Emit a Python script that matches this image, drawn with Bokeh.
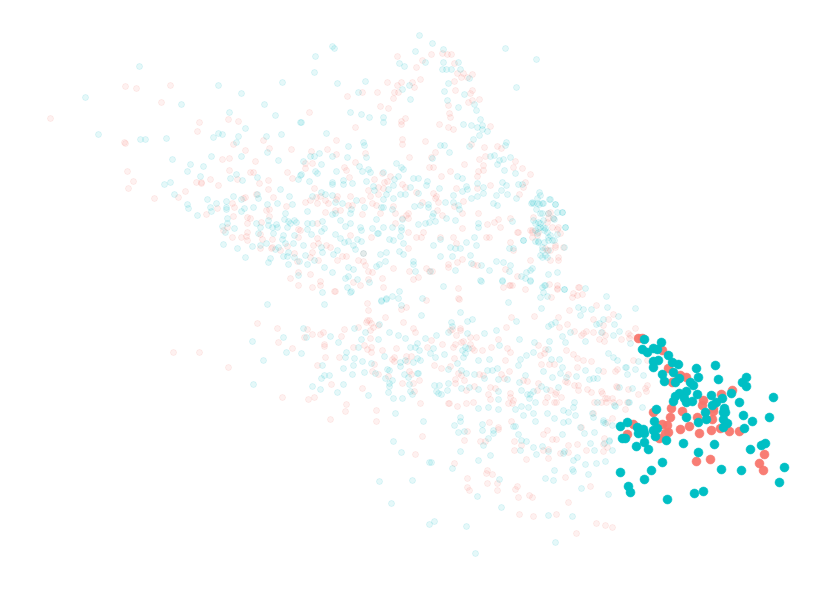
from bokeh.plotting import figure
from bokeh.models import Range1d
from bokeh.embed import file_html
from bokeh.resources import INLINE

faint_cyan = [
(139,66),(85,97),(98,134),(140,139),(145,139),(166,138),(172,159),(181,104),(218,85),(241,93),(282,82),(264,104),(229,112),(275,115),(300,122),(245,128),(213,137),(218,133),(222,134),(238,136),(236,142),(266,136),(281,134),(267,152),(241,156),(211,156),(278,160),(190,164),(203,166),(187,171),(200,176),(230,178),(236,174),(242,180),(257,177),(300,175),(298,179),(164,184),(170,182),(174,194),(187,204),(188,208),(197,215),(207,199),(210,207),(211,211),(216,203),(226,201),(226,207),(226,209),(233,196),(241,199),(241,211),(244,208),(253,207),(257,194),(258,198),(267,204),(277,203),(280,189),(289,196),(292,204),(285,213),(227,218),(227,223),(222,226),(225,232),(234,228),(256,223),(260,227),(258,233),(268,220),(268,225),(272,227),(276,224),(277,227),(273,233),(284,219),(288,221),(290,223),(294,220),(296,222),(287,227),(283,235),(282,239),(294,235),(285,243),(293,243),(223,244),(237,248),(252,246),(260,245),(266,243),(275,249),(278,247),(288,252),(287,256),(283,256),(294,257),(245,257),(270,258),(268,262),(288,264),(299,261),(298,275),
(419,35),(432,43),(443,49),(332,46),(334,48),(315,56),(314,72),(415,51),(505,48),(536,59),(443,62),(458,62),(425,62),(399,63),(404,66),(442,69),(446,69),(451,69),(460,69),(469,78),(365,81),(337,83),(448,83),(516,87),(409,85),(402,89),(358,92),(444,91),(464,94),(410,99),(447,100),(458,107),(474,104),(476,110),(350,112),(361,114),(369,117),(383,117),(383,122),(301,122),(480,119),(463,124),(471,125),(477,127),(482,125),(482,129),(487,131),(479,135),(473,139),(326,133),(363,142),(364,145),(348,146),(319,153),(440,145),(444,145),(449,152),(469,146),(506,142),(505,145),(494,155),(490,156),(499,160),(503,159),(510,157),(497,164),(432,158),(310,156),(314,156),(332,156),(347,157),(366,157),(303,161),(321,164),(359,166),(368,169),(396,163),(401,167),(403,169),(315,171),(317,173),(336,171),(362,171),(370,172),(383,172),(504,170),(515,173),(301,174),(413,178),(418,178),(398,176),(394,179),(457,176),(462,178),(309,181),(343,180),(343,184),(332,182),(332,184),(352,183),(366,181),(427,181),(426,185),(477,183),(502,182),(506,185),(518,184),(522,184),(483,187),(373,186),(374,190),(393,185),(388,189),(386,194),(410,187),(418,193),(439,188),(466,186),(467,189),(462,191),(501,190),(496,195),(507,194),(483,193),(477,196),(471,198),(453,195),(312,196),(321,192),(325,194),(332,195),(400,194),(405,194),(383,199),(393,198),(539,192),(540,195),(537,198),(516,198),(493,203),(497,205),(531,203),(533,203),(539,204),(543,203),(549,199),(555,204),(445,202),(453,202),(458,205),(459,209),(335,202),(342,203),(356,200),(364,207),(381,207),(383,207),(392,209),(414,206),(420,205),(428,204),(428,207),(307,211),(351,209),(350,213),(332,214),(335,213),(536,209),(542,213),(557,212),(562,212),(553,218),(433,213),(432,216),(446,218),(455,220),(376,219),(402,219),(512,221),(307,223),(312,223),(322,221),(340,220),(350,223),(418,224),(425,223),(429,222),(435,221),(478,223),(478,227),(533,220),(538,222),(543,220),(540,227),(544,230),(537,233),(548,237),(552,240),(565,227),(557,234),(324,228),(321,231),(307,229),(311,234),(360,227),(372,228),(383,227),(392,227),(401,227),(401,230),(400,236),(389,239),(378,233),(361,230),(345,226),(335,234),(340,238),(344,242),(348,241),(357,239),(361,241),(303,245),(321,247),(322,252),(353,245),(355,249),(377,233),(393,240),(403,243),(433,245),(440,239),(450,247),(455,248),(460,248),(466,242),(474,237),(476,245),(509,248),(523,240),(513,248),(535,241),(538,241),(542,250),(564,247),(540,255),(545,255),(440,256),(452,256),(470,255),(337,250),(333,254),(305,255),(363,253),(386,252),(380,254),(399,251),(403,254),(385,261),(307,264),(314,260),(324,267),(332,272),(348,267),(353,269),(345,278),(348,276),(357,279),(379,264),(376,266),(413,261),(413,264),(415,271),(430,271),(455,270),(471,263),(481,265),(489,270),(496,261),(503,262),(510,265),(509,271),(521,276),(526,272),(530,270),(532,268),(525,278),(530,280),(502,280),(480,280),(548,274),(557,272),(545,285),(542,287),(564,289),(540,297),(443,286),(369,282),(347,287),(351,291),(322,292),(399,291),(392,296),(386,298),(398,298),(381,300),(422,298),
(267,304),(324,304),(350,292),(381,301),(386,299),(401,305),(421,315),(303,328),(306,337),(283,337),(252,341),(330,336),(338,342),(354,328),(379,324),(365,332),(389,332),(398,335),(405,338),(378,339),(361,339),(358,347),(417,343),(425,338),(436,335),(448,332),(410,347),(415,347),(419,350),(433,348),(430,353),(435,357),(444,354),(286,352),(301,353),(263,360),(346,352),(345,357),(354,358),(362,361),(371,363),(384,356),(400,362),(400,366),(405,360),(420,360),(417,358),(413,362),(322,365),(343,368),(353,365),(364,372),(375,373),(387,369),(389,370),(404,374),(408,377),(417,373),(418,373),(448,369),(324,375),(329,375),(321,378),(352,374),(385,378),(392,380),(389,383),(389,386),(409,384),(253,384),(312,386),(343,384),(320,389),(337,392),(368,395),(388,392),(410,391),(412,394),(402,398),(393,398),(434,385),(439,385),(448,383),(447,390),(436,391),(438,393),(441,394),(395,413),(423,421),(393,441),(401,452),(429,462),(431,462),(379,481),(412,480),(391,503),(434,521),(429,524),(452,468),
(481,281),(502,281),(530,281),(544,285),(543,292),(547,296),(585,288),(564,289),(606,296),(508,302),(541,308),(578,307),(583,309),(591,309),(607,307),(580,315),(460,312),(451,322),(452,326),(467,321),(472,319),(516,321),(548,326),(551,324),(555,322),(596,324),(599,323),(603,319),(614,324),(618,316),(496,330),(484,333),(467,333),(570,332),(601,332),(613,335),(619,331),(562,336),(585,341),(549,341),(519,339),(534,342),(565,342),(630,343),(499,345),(462,350),(465,347),(468,348),(465,353),(463,357),(478,360),(489,359),(548,349),(533,352),(526,355),(520,359),(518,365),(551,359),(559,359),(608,353),(613,357),(625,367),(617,360),(457,363),(461,370),(466,373),(474,374),(487,370),(492,370),(497,368),(484,378),(498,379),(507,379),(525,375),(543,371),(552,377),(562,367),(560,373),(576,376),(585,370),(589,379),(598,370),(593,378),(597,378),(519,382),(461,388),(469,387),(478,389),(498,391),(498,399),(530,394),(527,394),(533,391),(521,390),(541,386),(546,389),(558,387),(566,377),(619,387),(529,398),(535,402),(574,402),(573,407),(597,402),(614,405),(628,402),(478,408),(488,407),(498,409),(521,406),(515,409),(528,407),(523,415),(533,413),(547,413),(563,410),(568,412),(575,415),(535,421),(554,418),(563,422),(568,421),(592,413),(593,417),(460,417),(460,421),(454,425),(458,432),(482,424),(482,430),(493,430),(493,433),(603,420),(605,423),(612,425),(513,426),(515,426),(518,434),(562,434),(580,427),(584,433),(594,432),(609,440),(464,431),(521,440),(526,441),(488,438),(483,445),(460,451),(490,455),(533,447),(542,446),(548,451),(536,454),(520,450),(564,451),(563,453),(577,457),(573,460),(590,443),(594,450),(612,450),(605,461),(596,463),(585,464),(478,460),(554,470),(572,469),(573,471),(588,474),(499,479),(545,478),(553,480),(581,488),(608,494),(477,496),(501,507),(548,515),(572,516),(466,526),(555,542),(475,553),
(635,308),(626,367),(627,374),(635,369),(643,375),(638,361),(632,388),(629,402),(615,406),(642,407),(609,441),(604,443),(603,422),
(532,202),(537,203),(542,203),(550,199),(555,204),(540,213),(548,213),(562,212),(554,219),(535,223),(540,223),(543,227),(538,228),(535,230),(547,232),(550,235),(554,240),(548,240),(544,242),(538,242),(548,250),(542,247),(523,240),(565,227),(542,257),(547,257),(545,228),
]

faint_red = [
(125,86),(136,88),(170,85),(161,102),(50,118),(199,122),(197,131),(228,119),(238,121),(124,142),(125,143),(233,144),(263,140),(245,150),(269,148),(291,149),(222,159),(229,158),(255,161),(127,171),(133,181),(128,188),(154,198),(178,197),(185,191),(196,182),(201,182),(201,183),(210,179),(218,185),(229,170),(237,179),(250,172),(253,172),(259,183),(268,180),(287,172),(292,178),(268,189),(245,197),(243,198),(256,194),(273,197),(232,203),(234,207),(217,208),(206,214),(266,210),(269,209),(286,206),(233,216),(247,217),(250,218),(269,216),(247,223),(261,222),(223,230),(227,227),(247,232),(246,236),(232,237),(241,237),(247,240),(260,234),(262,239),(298,229),(298,237),(272,239),(272,247),(260,248),(271,248),(280,250),(287,246),(294,253),(297,261),(298,272),(290,278),(298,285),
(397,56),(431,54),(442,53),(447,54),(451,54),(422,60),(416,67),(454,63),(457,73),(463,73),(472,74),(467,77),(461,77),(454,81),(387,82),(401,82),(397,85),(412,82),(420,79),(414,87),(398,92),(394,92),(377,92),(362,92),(347,96),(393,98),(455,90),(472,90),(470,93),(479,99),(468,102),(472,100),(448,105),(380,106),(388,108),(309,112),(405,118),(401,121),(401,124),(355,127),(449,113),(450,117),(439,124),(448,127),(453,129),(490,126),(336,140),(402,139),(402,144),(425,141),(471,144),(484,147),(497,146),(501,148),(327,149),(311,151),(365,153),(435,152),(479,159),(485,156),(312,163),(336,154),(355,162),(409,157),(431,157),(464,164),(483,165),(305,163),(305,168),(515,161),(513,167),(522,168),(530,174),(478,171),(483,170),(429,167),(433,167),(450,171),(344,167),(346,170),(382,173),(441,176),(477,176),(349,177),(374,179),(390,176),(387,181),(384,182),(402,184),(490,185),(525,182),(523,187),(314,188),(405,187),(378,187),(383,188),(378,194),(456,188),(477,188),(416,192),(433,193),(436,196),(519,194),(368,190),(337,196),(350,196),(320,196),(316,197),(370,196),(310,200),(305,202),(317,203),(325,200),(328,203),(336,199),(352,205),(348,205),(362,200),(372,203),(376,205),(393,206),(422,202),(435,198),(438,202),(463,201),(454,206),(437,210),(442,215),(462,213),(478,213),(498,219),(494,222),(487,224),(510,218),(500,227),(532,230),(532,237),(548,213),(552,227),(537,235),(555,245),(545,248),(558,257),(558,260),(340,210),(325,212),(335,210),(362,214),(380,213),(395,213),(408,213),(406,215),(402,218),(408,218),(317,223),(300,230),(371,237),(350,235),(408,232),(395,223),(423,232),(421,237),(416,237),(440,237),(453,237),(456,243),(462,228),(489,237),(486,237),(517,232),(510,242),(513,250),(563,247),(317,238),(318,243),(313,245),(326,245),(330,247),(408,248),(363,253),(342,256),(346,256),(312,252),(318,260),(310,257),(337,260),(358,260),(363,261),(365,265),(368,271),(372,272),(393,268),(409,271),(426,268),(429,271),(432,271),(462,259),(457,262),(448,264),(448,267),(473,264),(477,265),(505,269),(530,260),(517,276),(550,260),(382,278),(310,274),(320,281),(320,285),(312,287),(334,291),(353,282),(368,279),(360,285),(413,279),(418,277),(383,287),(458,288),(503,287),(510,285),(557,285),(557,288),(578,287),(573,293),(458,298),
(173,352),(199,352),(228,367),(257,323),(277,328),(278,342),(292,348),(307,329),(304,337),(312,334),(320,334),(323,332),(324,344),(324,346),(341,336),(344,329),(358,327),(367,303),(368,310),(335,291),(367,320),(369,320),(371,323),(366,322),(370,330),(373,327),(378,325),(385,317),(403,322),(406,307),(401,309),(426,300),(413,328),(415,332),(370,338),(431,340),(442,344),(427,347),(450,330),(364,345),(371,347),(367,349),(371,352),(353,347),(382,350),(396,348),(339,357),(325,357),(317,365),(394,357),(392,359),(394,361),(406,356),(411,356),(407,361),(374,364),(372,371),(378,374),(434,365),(441,368),(450,366),(409,371),(411,374),(388,376),(419,380),(413,383),(402,383),(331,384),(362,388),(414,391),(282,397),(308,399),(314,397),(346,404),(345,411),(376,410),(376,421),(330,419),(420,403),(448,403),(422,436),(415,454),
(509,285),(512,285),(525,289),(549,284),(557,289),(579,287),(572,297),(577,295),(582,294),(551,297),(459,299),(596,305),(569,310),(558,317),(534,316),(511,317),(593,319),(608,319),(613,314),(567,324),(559,327),(603,325),(506,327),(460,328),(460,330),(452,329),(574,331),(586,331),(583,333),(581,335),(593,332),(602,332),(599,339),(605,335),(604,341),(621,339),(628,333),(629,338),(470,337),(476,337),(456,335),(463,341),(461,342),(455,344),(453,347),(470,344),(472,348),(474,350),(482,350),(491,347),(498,339),(507,348),(510,352),(505,360),(538,345),(545,349),(540,355),(544,353),(541,364),(549,364),(554,364),(566,350),(573,354),(577,358),(583,360),(591,361),(577,367),(454,358),(458,373),(461,375),(479,374),(483,375),(509,371),(501,374),(504,378),(527,381),(523,380),(568,374),(565,381),(567,382),(578,385),(574,385),(578,390),(587,389),(591,392),(601,391),(602,393),(616,386),(628,389),(455,379),(455,383),(464,380),(474,386),(466,390),(490,387),(495,388),(488,394),(490,399),(510,393),(510,397),(513,400),(508,403),(512,403),(538,383),(537,390),(550,390),(556,392),(555,394),(561,397),(547,397),(545,402),(554,402),(556,402),(449,403),(457,406),(466,403),(473,402),(594,402),(601,402),(607,398),(606,402),(612,398),(625,409),(612,418),(607,422),(593,413),(489,422),(498,427),(498,429),(511,421),(547,430),(543,434),(581,427),(467,431),(464,440),(480,441),(485,441),(514,441),(521,445),(514,450),(552,439),(556,439),(577,444),(568,445),(586,450),(604,438),(603,444),(607,447),(603,451),(543,450),(548,449),(548,458),(560,453),(568,452),(526,459),(454,463),(486,473),(487,470),(492,474),(467,478),(497,483),(487,483),(467,487),(469,490),(497,490),(517,486),(515,489),(518,497),(529,495),(532,497),(565,477),(590,486),(568,502),(519,514),(533,516),(556,514),(596,523),(605,525),(612,527),(576,533),
(635,328),(630,335),(633,360),(647,360),(617,369),(615,371),(603,371),(647,385),(617,387),(646,391),(638,394),(605,398),(613,402),(619,402),(627,402),(645,388),
(530,230),(532,232),(533,217),(550,212),(548,218),(553,218),(547,222),(557,229),(560,233),(518,232),(555,247),(547,250),(550,250),(558,227),(538,232),
]

bright_red = [
(638,338),(642,338),(662,350),(668,368),(680,375),(686,377),(672,382),(678,378),(703,400),(702,405),(721,394),(732,390),(671,408),(653,412),(682,411),(713,408),
(633,424),(627,434),(670,417),(667,425),(662,424),(668,432),(665,433),(659,438),(680,429),(689,426),(697,417),(699,433),(711,430),(712,419),(720,428),(729,431),(739,431),(764,454),(759,463),(763,470),(696,461),(710,459),(713,411),
]

bright_cyan = [
(644,339),(661,342),(642,349),(647,352),(653,348),(657,349),(668,355),(658,360),(653,361),(653,367),(662,374),(664,381),(672,362),(678,364),(673,372),(679,378),(675,382),(715,365),(696,368),(698,377),(718,379),(690,382),(693,385),(746,377),(742,382),(746,386),(731,393),(773,397),(711,395),(697,394),(686,391),(679,393),(675,396),(673,401),(684,398),(686,402),(692,401),(722,398),(716,402),(712,405),(739,402),(724,408),(725,412),(743,415),(705,412),(769,417),(656,409),(686,417),
(706,419),(698,422),(723,412),(723,419),(727,423),(723,427),(752,421),(744,428),(620,426),(627,422),(637,427),(643,429),(638,433),(644,433),(654,421),(653,430),(657,428),(655,436),(622,438),(625,438),(666,440),(683,443),(636,446),(644,442),(648,449),(714,444),(698,452),(750,449),(761,445),(765,443),(662,462),(651,470),(620,472),(644,479),(721,469),(741,470),(784,467),(779,482),(628,486),(630,492),(667,499),(694,493),(703,491),
]

p = figure(width=814, height=577, output_backend="svg", toolbar_location=None,
           x_range=Range1d(0, 814), y_range=Range1d(577, 0), min_border=0,
           outline_line_color=None, background_fill_color="white")
p.axis.visible = False
p.grid.visible = False

RED = "#F8766D"
CYAN = "#00BFC4"

def xs(a): return [q[0] for q in a]
def ys(a): return [q[1] for q in a]

p.scatter(xs(faint_red), ys(faint_red), size=6, fill_color=RED, line_color=RED, fill_alpha=0.1, line_alpha=0.1, line_width=1)
p.scatter(xs(faint_cyan), ys(faint_cyan), size=6, fill_color=CYAN, line_color=CYAN, fill_alpha=0.1, line_alpha=0.1, line_width=1)
p.scatter(xs(bright_red), ys(bright_red), size=9, fill_color=RED, line_color=RED, fill_alpha=0.95, line_alpha=0.95, line_width=0.5)
p.scatter(xs(bright_cyan), ys(bright_cyan), size=9, fill_color=CYAN, line_color=CYAN, fill_alpha=1, line_alpha=1, line_width=0.5)

open("out.html", "w").write(file_html(p, INLINE))
